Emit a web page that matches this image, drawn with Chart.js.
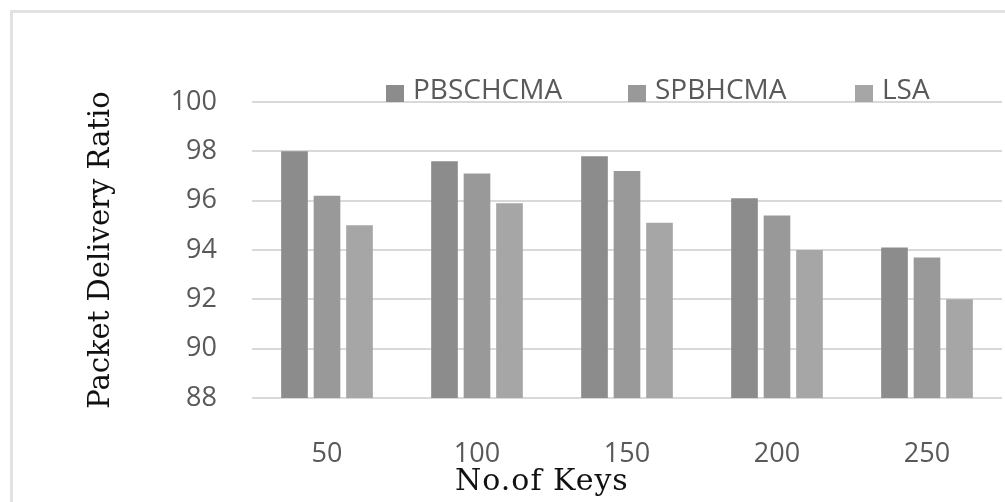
<!DOCTYPE html>
<html>
<head>
<meta charset="utf-8">
<script src="https://cdn.jsdelivr.net/npm/chart.js@4.4.0/dist/chart.umd.min.js"></script>
<style>
  html, body { margin: 0; padding: 0; background: #fff; overflow: hidden; }
  #wrap { position: relative; width: 1005px; height: 502px; }
  #frame { position: absolute; left: 10px; top: 10px; width: 1100px; height: 600px;
           border-top: 3px solid #e2e2e2; border-left: 3px solid #e2e2e2; }
  #pdr-chart { position: absolute; left: 0; top: 0; }
  #legend { position: absolute; left: 0; top: 0; width: 1005px; height: 0; }
  .lg-item { position: absolute; top: 73px; display: flex; align-items: flex-end;
             font-family: "Open Sans", sans-serif; font-size: 28px; color: #595959; line-height: 30px; }
  .lg-box { width: 18px; height: 17px; margin-right: 9px; margin-bottom: 1px; }
  #x-title { position: absolute; left: 455px; top: 462px; white-space: nowrap;
             font-family: "DejaVu Serif", serif; font-size: 30px; line-height: 36px; color: #111;
             letter-spacing: 1px; }
</style>
</head>
<body>
<div id="wrap">
  <div id="frame"></div>
  <canvas id="pdr-chart" width="1005" height="502"></canvas>
  <div id="legend"></div>
  <div id="x-title"></div>
</div>
<script>
  // data
  const keys = ['50', '100', '150', '200', '250'];
  const seriesNames = ['PBSCHCMA', 'SPBHCMA', 'LSA'];
  const pbschcma = [98.0, 97.6, 97.8, 96.1, 94.1];
  const spbhcma = [96.2, 97.1, 97.2, 95.4, 93.7];
  const lsa = [95.0, 95.9, 95.1, 94.0, 92.0];
  const yTicks = [88, 90, 92, 94, 96, 98, 100];
  const xTitle = 'No.of Keys';
  const yTitle = 'Packet Delivery Ratio';

  const barColors = ['#8c8c8c', '#999999', '#a6a6a6'];
  const legendLeft = [386, 628, 855];

  const ctx = document.getElementById('pdr-chart');
  const chart = new Chart(ctx, {
    type: 'bar',
    data: {
      labels: keys,
      datasets: [pbschcma, spbhcma, lsa].map((vals, i) => ({
        label: seriesNames[i],
        data: vals,
        backgroundColor: barColors[i],
        borderWidth: 0,
        categoryPercentage: 0.65,
        barPercentage: 0.82
      }))
    },
    options: {
      responsive: false,
      animation: false,
      layout: { padding: { top: 102, right: 3, bottom: 0, left: 0 } },
      plugins: {
        legend: { display: false },
        tooltip: { enabled: false }
      },
      scales: {
        x: {
          grid: { display: false, drawTicks: false },
          border: { display: false },
          ticks: {
            padding: 40,
            color: '#595959',
            font: { family: '"Open Sans", sans-serif', size: 27 }
          },
          afterFit: function(scale) { scale.height = 104; }
        },
        y: {
          min: 88,
          max: 100,
          afterBuildTicks: function(scale) {
            scale.ticks = yTicks.map(v => ({ value: v }));
          },
          grid: { color: '#d9d9d9', lineWidth: 2, drawTicks: false },
          border: { display: false },
          ticks: {
            padding: 35,
            color: '#595959',
            font: { family: '"Open Sans", sans-serif', size: 27 }
          },
          title: {
            display: true,
            text: yTitle,
            color: '#111',
            font: { family: '"DejaVu Serif", serif', size: 29 },
            padding: { top: 84, bottom: 0 }
          },
          afterFit: function(scale) { scale.width = 252; }
        }
      }
    }
  });

  document.getElementById('x-title').textContent = xTitle;

  // legend drawn as html, one item per dataset
  const legend = document.getElementById('legend');
  chart.data.datasets.forEach((ds, i) => {
    const item = document.createElement('div');
    item.className = 'lg-item';
    item.style.left = legendLeft[i] + 'px';
    const box = document.createElement('span');
    box.className = 'lg-box';
    box.style.background = ds.backgroundColor;
    const txt = document.createElement('span');
    txt.textContent = ds.label;
    item.appendChild(box);
    item.appendChild(txt);
    legend.appendChild(item);
  });
</script>
</body>
</html>
